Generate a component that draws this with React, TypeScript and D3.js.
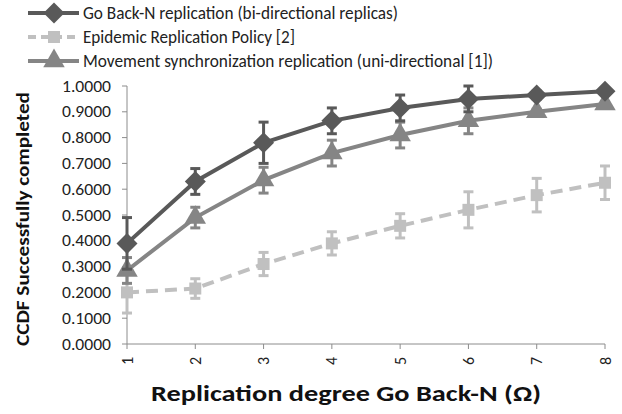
import React from 'react';
import * as d3 from 'd3';

// x categories (replication degree)
const degrees = [1, 2, 3, 4, 5, 6, 7, 8];
const yTicks = [0, 0.1, 0.2, 0.3, 0.4, 0.5, 0.6, 0.7, 0.8, 0.9, 1.0];

const goBackN = [0.39, 0.63, 0.78, 0.865, 0.915, 0.95, 0.965, 0.98];
const goBackNErr = [0.1, 0.05, 0.08, 0.05, 0.05, 0.05, 0.015, 0.01];

const epidemic = [0.2, 0.215, 0.31, 0.39, 0.458, 0.52, 0.577, 0.625];
const epidemicErr = [0.08, 0.038, 0.045, 0.045, 0.047, 0.07, 0.065, 0.065];

const movement = [0.285, 0.49, 0.635, 0.74, 0.81, 0.865, 0.9, 0.93];
const movementErr = [0.05, 0.04, 0.05, 0.05, 0.05, 0.05, 0.01, 0.01];

const seriesNames = [
  'Go Back-N replication (bi-directional replicas)',
  'Epidemic Replication Policy [2]',
  'Movement synchronization replication (uni-directional [1])',
];

const W = 622;
const H = 414;
const plot = { left: 127, right: 605, top: 86, bottom: 344 };

const font = 'Carlito, Calibri, "Open Sans", "Liberation Sans", sans-serif';

const Marker = ({ kind, x, y, color }: { kind: string; x: number; y: number; color: string }) => {
  if (kind === 'diamond') {
    const r = 10.5;
    return <path d={`M${x},${y - r}L${x + r},${y}L${x},${y + r}L${x - r},${y}Z`} fill={color} />;
  }
  if (kind === 'square') {
    return <rect x={x - 6} y={y - 6} width={12} height={12} fill={color} />;
  }
  const sym = d3.symbol().type(d3.symbolTriangle).size(200);
  return <path d={sym() || ''} transform={`translate(${x},${y})`} fill={color} />;
};

export default function App() {
  const x = d3.scaleLinear().domain([1, 8]).range([plot.left, plot.right]);
  const y = d3.scaleLinear().domain([0, 1]).range([plot.bottom, plot.top]);
  const line = d3.line<number>().x((_, i) => x(degrees[i])).y((d) => y(d));

  const series = [
    { name: seriesNames[0], values: goBackN, err: goBackNErr, color: '#595959', marker: 'diamond', dash: '' },
    { name: seriesNames[1], values: epidemic, err: epidemicErr, color: '#c0c0c0', marker: 'square', dash: '12,7' },
    { name: seriesNames[2], values: movement, err: movementErr, color: '#858585', marker: 'triangle', dash: '' },
  ];
  // draw order: epidemic, movement, go back-n on top
  const drawOrder = [1, 2, 0];

  return (
    <svg width={W} height={H} style={{ position: 'absolute', left: 0, top: 0, background: '#fff' }}>
      {/* legend */}
      {series.map((s, i) => {
        const ly = 13 + i * 24;
        return (
          <g key={s.name}>
            <line x1={28} x2={79} y1={ly} y2={ly} stroke={s.color} strokeWidth={4} strokeDasharray={s.dash ? '8,5' : ''} />
            <Marker kind={s.marker} x={54} y={ly} color={s.color} />
            <text x={83} y={ly + 6} fontFamily={font} fontSize={18} fill="#222"
              textLength={[315, 212, 410][i]} lengthAdjust="spacingAndGlyphs">{s.name}</text>
          </g>
        );
      })}

      {/* axes */}
      <line x1={plot.left} x2={plot.left} y1={plot.top} y2={plot.bottom} stroke="#8c8c8c" strokeWidth={1} />
      <line x1={plot.left} x2={plot.right} y1={plot.bottom} y2={plot.bottom} stroke="#8c8c8c" strokeWidth={1} />
      {yTicks.map((t) => (
        <g key={t}>
          <line x1={plot.left - 5} x2={plot.left} y1={y(t)} y2={y(t)} stroke="#8c8c8c" />
          <text x={111} y={y(t) + 5.5} textAnchor="end" fontFamily={font} fontSize={16} fill="#222"
            textLength={49} lengthAdjust="spacingAndGlyphs">{t.toFixed(4)}</text>
        </g>
      ))}
      {degrees.map((d) => (
        <g key={d}>
          <line x1={x(d)} x2={x(d)} y1={plot.bottom} y2={plot.bottom + 5} stroke="#8c8c8c" />
          <text transform={`translate(${x(d) + 5.5},${plot.bottom + 17}) rotate(-90)`} textAnchor="middle"
            fontFamily={font} fontSize={16} fill="#222">{d}</text>
        </g>
      ))}

      {/* axis titles */}
      <text transform={`translate(29,${(plot.top + plot.bottom) / 2 + 4}) rotate(-90)`} textAnchor="middle"
        fontFamily={font} fontSize={18} fontWeight="bold" fill="#111" textLength={254} lengthAdjust="spacingAndGlyphs">
        CCDF Successfully completed
      </text>
      <text x={346} y={401} textAnchor="middle" fontFamily={font} fontSize={22} fontWeight="bold" fill="#111"
        textLength={390} lengthAdjust="spacingAndGlyphs">
        Replication degree Go Back-N (Ω)
      </text>

      {/* series */}
      {drawOrder.map((si) => {
        const s = series[si];
        return (
          <g key={s.name}>
            <path d={line(s.values) || ''} fill="none" stroke={s.color} strokeWidth={4} strokeDasharray={s.dash} />
            {s.values.map((v, i) => {
              const cx = x(degrees[i]);
              return (
                <g key={i}>
                  <line x1={cx} x2={cx} y1={y(v - s.err[i])} y2={y(v + s.err[i])} stroke={s.color} strokeWidth={3} />
                  <line x1={cx - 5} x2={cx + 5} y1={y(v + s.err[i])} y2={y(v + s.err[i])} stroke={s.color} strokeWidth={3} />
                  <line x1={cx - 5} x2={cx + 5} y1={y(v - s.err[i])} y2={y(v - s.err[i])} stroke={s.color} strokeWidth={3} />
                  <Marker kind={s.marker} x={cx} y={y(v)} color={s.color} />
                </g>
              );
            })}
          </g>
        );
      })}
    </svg>
  );
}
